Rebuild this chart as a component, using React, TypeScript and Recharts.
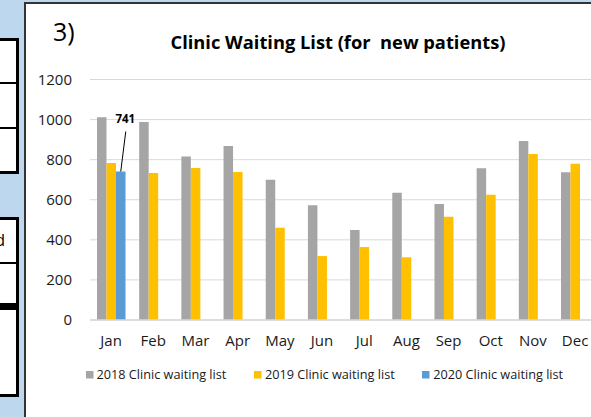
import { BarChart, Bar, XAxis, YAxis, CartesianGrid, LabelList } from 'recharts';

const months = ['Jan', 'Feb', 'Mar', 'Apr', 'May', 'Jun', 'Jul', 'Aug', 'Sep', 'Oct', 'Nov', 'Dec'];
const list2018 = [1012, 988, 816, 868, 700, 572, 449, 635, 579, 757, 893, 737];
const list2019 = [783, 733, 758, 738, 460, 319, 364, 313, 515, 625, 828, 780];
const list2020 = [741, null, null, null, null, null, null, null, null, null, null, null];
const seriesKeys = ['y2018', 'y2019', 'y2020'];
const seriesNames = ['2018 Clinic waiting list', '2019 Clinic waiting list', '2020 Clinic waiting list'];
const seriesColors = ['#A5A5A5', '#FFC000', '#5B9BD5'];
const yTicks = [0, 200, 400, 600, 800, 1000, 1200];

const data = months.map((month, i) => ({
  month,
  y2018: list2018[i],
  y2019: list2019[i],
  y2020: list2020[i],
}));

const FONT = '"Open Sans", "Noto Sans", sans-serif';
const TEXT = '#1a1a1a';

// callout label with a leader line, like the Excel one on the Jan 2020 bar
function Callout(props: any) {
  const { x, y, width, value } = props;
  if (value == null) return null;
  const cx = x + width / 2;
  return (
    <g>
      <line x1={cx} y1={y} x2={cx + 5} y2={y - 40} stroke="#000" strokeWidth={1} />
      <text x={cx + 4.5} y={y - 48.5} textAnchor="middle" fontSize={11.5} fontWeight="bold" fill="#000">
        {value}
      </text>
    </g>
  );
}

export default function App() {
  return (
    <div
      style={{
        position: 'absolute',
        left: 0,
        top: 0,
        width: 591,
        height: 417,
        overflow: 'hidden',
        background: '#BDD7EE',
        fontFamily: FONT,
      }}
    >
      {/* bits of the neighbouring table on the left (cut off in the original too) */}
      <div style={{ position: 'absolute', left: -10, top: 38, width: 29, height: 136, boxSizing: 'border-box', border: '3px solid #000', background: '#fff' }} />
      <div style={{ position: 'absolute', left: -10, top: 82, width: 29, height: 2, background: '#000' }} />
      <div style={{ position: 'absolute', left: -10, top: 127, width: 29, height: 2, background: '#000' }} />
      <div style={{ position: 'absolute', left: -10, top: 217, width: 29, height: 180, boxSizing: 'border-box', border: '3px solid #000', background: '#fff' }} />
      <div style={{ position: 'absolute', left: -10, top: 262, width: 29, height: 2, background: '#000' }} />
      <div style={{ position: 'absolute', left: -10, top: 303, width: 29, height: 7, background: '#000' }} />
      <div style={{ position: 'absolute', left: -40, top: 230, width: 45, textAlign: 'right', fontSize: 16, lineHeight: '20px', color: '#000' }}>d</div>

      {/* chart panel */}
      <div
        style={{
          position: 'absolute',
          left: 24,
          top: 2,
          width: 600,
          height: 500,
          background: '#fff',
          borderLeft: '2px solid #333',
          borderTop: '2px solid #333',
        }}
      />

      <div style={{ position: 'absolute', left: 0, top: 0 }}>
        <BarChart
          width={601}
          height={417}
          data={data}
          margin={{ top: 79.5, right: 4.8, bottom: 67, left: 0 }}
          barGap={0}
          barSize={9.5}
        >
          <CartesianGrid vertical={false} stroke="#D9D9D9" strokeWidth={1} />
          <XAxis
            dataKey="month"
            interval={0}
            height={30}
            axisLine={{ stroke: '#D9D9D9', strokeWidth: 1.5 }}
            tickLine={false}
            tickSize={0}
            tickMargin={15}
            tick={{ fontSize: 15, fill: TEXT }}
          />
          <YAxis
            width={90}
            domain={[0, 1200]}
            ticks={yTicks}
            axisLine={false}
            tickLine={false}
            tickSize={0}
            tickMargin={18}
            tick={{ fontSize: 15, fill: TEXT }}
          />
          {seriesKeys.map((key, i) => (
            <Bar key={key} dataKey={key} name={seriesNames[i]} fill={seriesColors[i]} isAnimationActive={false}>
              {key === 'y2020' && <LabelList dataKey={key} content={Callout} />}
            </Bar>
          ))}
        </BarChart>
      </div>

      {/* title, panel number and legend */}
      <svg width={591} height={417} style={{ position: 'absolute', left: 0, top: 0, pointerEvents: 'none' }}>
        <text x={53} y={41} fontSize={25} fill="#000">
          3)
        </text>
        <text x={338} y={48.5} textAnchor="middle" fontSize={18.3} fontWeight="bold" fill="#000" style={{ whiteSpace: 'pre' }}>
          {'Clinic Waiting List (for  new patients)'}
        </text>
        {seriesNames.map((name, i) => (
          <g key={name}>
            <rect x={86 + i * 168} y={371} width={7.5} height={7.5} fill={seriesColors[i]} />
            <text x={96.5 + i * 168.4} y={379} fontSize={12.7} fill={TEXT}>
              {name}
            </text>
          </g>
        ))}
      </svg>
    </div>
  );
}
